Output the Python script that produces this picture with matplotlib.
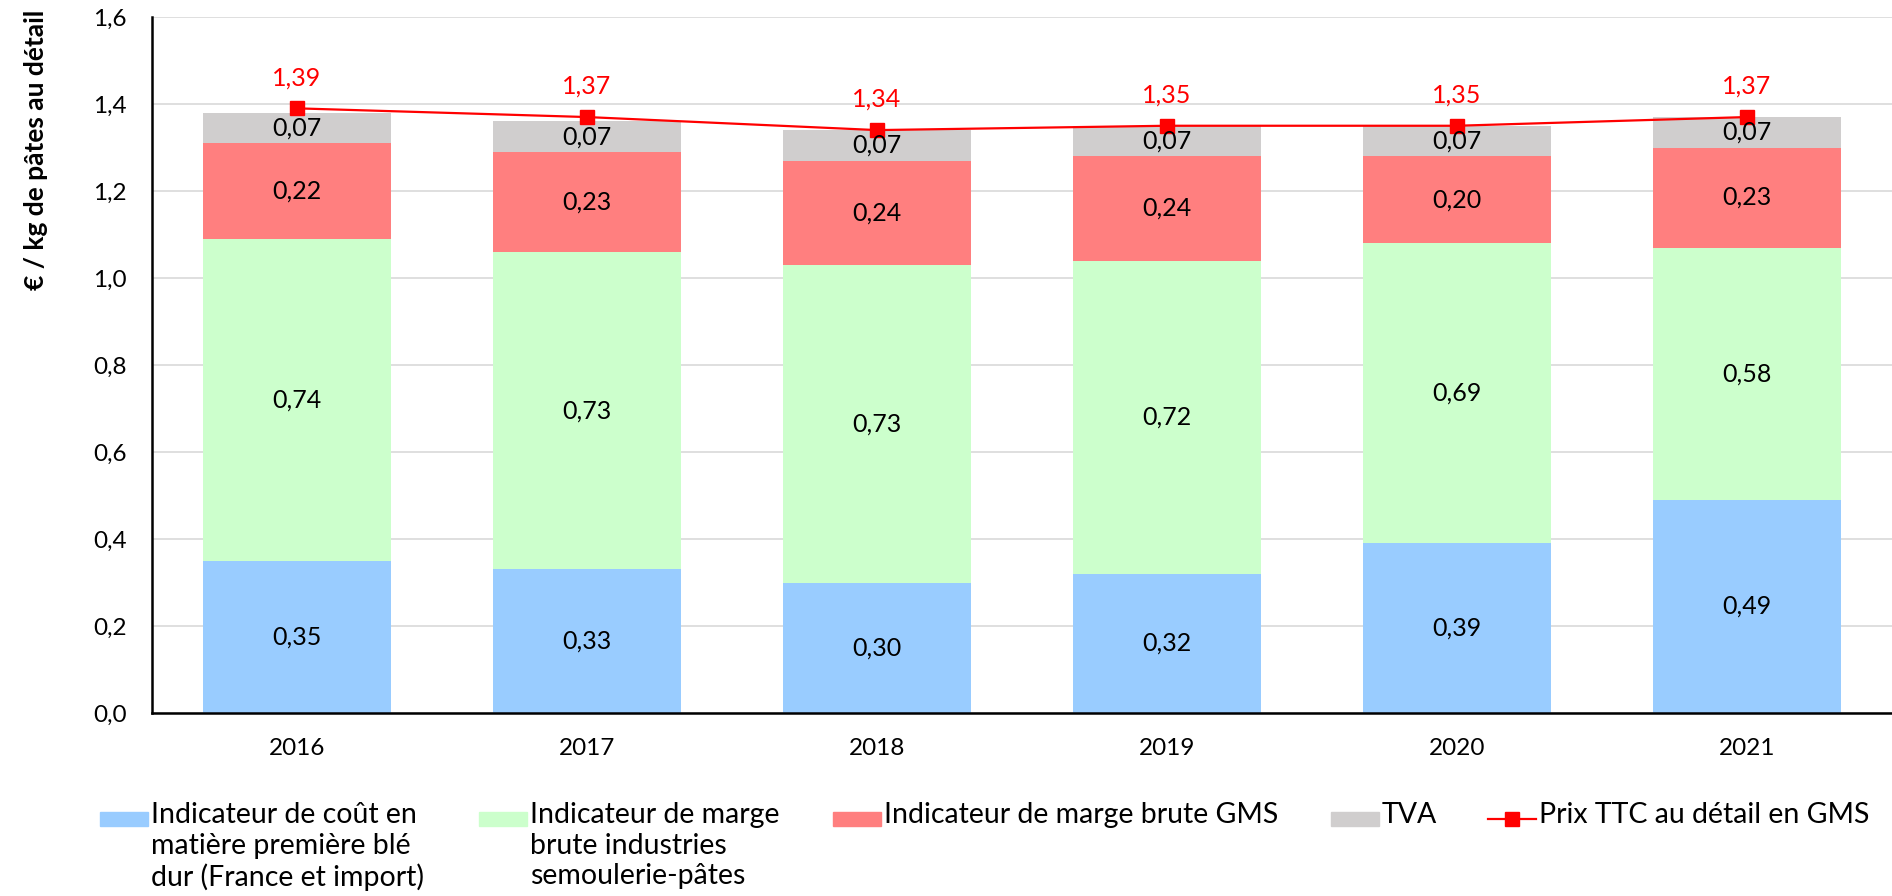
import numpy as np
import matplotlib
matplotlib.use("Agg")
import matplotlib.pyplot as plt
from matplotlib.patches import Rectangle
from matplotlib.lines import Line2D

plt.rcParams['font.family'] = ['Lato', 'DejaVu Sans']

annees = ['2016', '2017', '2018', '2019', '2020', '2021']
cout_ble = [0.35, 0.33, 0.30, 0.32, 0.39, 0.49]
marge_indus = [0.74, 0.73, 0.73, 0.72, 0.69, 0.58]
marge_gms = [0.22, 0.23, 0.24, 0.24, 0.20, 0.23]
tva = [0.07, 0.07, 0.07, 0.07, 0.07, 0.07]
prix_ttc = [1.39, 1.37, 1.34, 1.35, 1.35, 1.37]

noms = ['Indicateur de coût en\nmatière première blé\ndur (France et import)',
        'Indicateur de marge\nbrute industries\nsemoulerie-pâtes',
        'Indicateur de marge brute GMS',
        'TVA',
        'Prix TTC au détail en GMS']
couleurs = ['#99CCFF', '#CCFFCC', '#FF7F7F', '#D0CECE']
rouge = '#FF0000'


def fmt(v, n=2):
    return f"{v:.{n}f}".replace('.', ',')


W, H = 1892, 896
fig = plt.figure(figsize=(W / 100, H / 100), dpi=100)
ax = fig.add_axes([152 / W, 1 - 713 / H, 1 - 152 / W, (713 - 17) / H])

x = np.arange(len(annees))
bas = np.zeros(len(annees))
for serie, coul in zip([cout_ble, marge_indus, marge_gms, tva], couleurs):
    ax.bar(x, serie, 0.65, bottom=bas, color=coul, zorder=2)
    for xi, b, v in zip(x, bas, serie):
        ax.text(xi, b + v / 2, fmt(v), ha='center', va='center', fontsize=18, zorder=4)
    bas = bas + np.array(serie)

ax.plot(x, prix_ttc, color=rouge, lw=1.6, marker='s', markersize=10, zorder=3)
for xi, p in zip(x, prix_ttc):
    ax.annotate(fmt(p), (xi, p), xytext=(0, 22), textcoords='offset points',
                ha='center', va='center', color=rouge, fontsize=18)

ax.set_xlim(-0.5, 5.5)
ax.set_ylim(0, 1.6)
ax.set_yticks(np.arange(0, 1.61, 0.2))
ax.set_yticklabels([fmt(t, 1) for t in np.arange(0, 1.61, 0.2)])
ax.set_xticks(x)
ax.set_xticklabels(annees)
ax.tick_params(length=0, labelsize=17.5)
ax.tick_params(axis='y', pad=18)
ax.tick_params(axis='x', pad=18)
ax.grid(axis='y', color='#D9D9D9', lw=1.2, zorder=0)
ax.set_axisbelow(True)
for s in ['top', 'right']:
    ax.spines[s].set_visible(False)
ax.spines['left'].set_linewidth(1.8)
ax.spines['bottom'].set_linewidth(1.8)
fig.text(36 / W, 1 - 150 / H, '€ / kg de pâtes au détail', rotation=90,
         ha='center', va='center', fontsize=19, fontweight='bold')

# légende faite à la main (poignée alignée sur la première ligne)
x_poignee = [100, 479, 833, 1331, 1488]
y_ligne = 819
for i, (xp, nom) in enumerate(zip(x_poignee, noms)):
    if i < 4:
        fig.add_artist(Rectangle((xp / W, 1 - (y_ligne + 7) / H), 48 / W, 14 / H,
                                 transform=fig.transFigure, color=couleurs[i]))
    else:
        fig.add_artist(Line2D([xp / W, (xp + 24) / W, (xp + 48) / W], [1 - y_ligne / H] * 3,
                              transform=fig.transFigure, color=rouge, lw=1.6,
                              marker='s', markersize=10, markevery=[1]))
    fig.text((xp + 51) / W, 1 - (y_ligne - 17) / H, nom, ha='left', va='top',
             fontsize=20.5, linespacing=1.22)

fig.savefig('out.png', dpi=100)
